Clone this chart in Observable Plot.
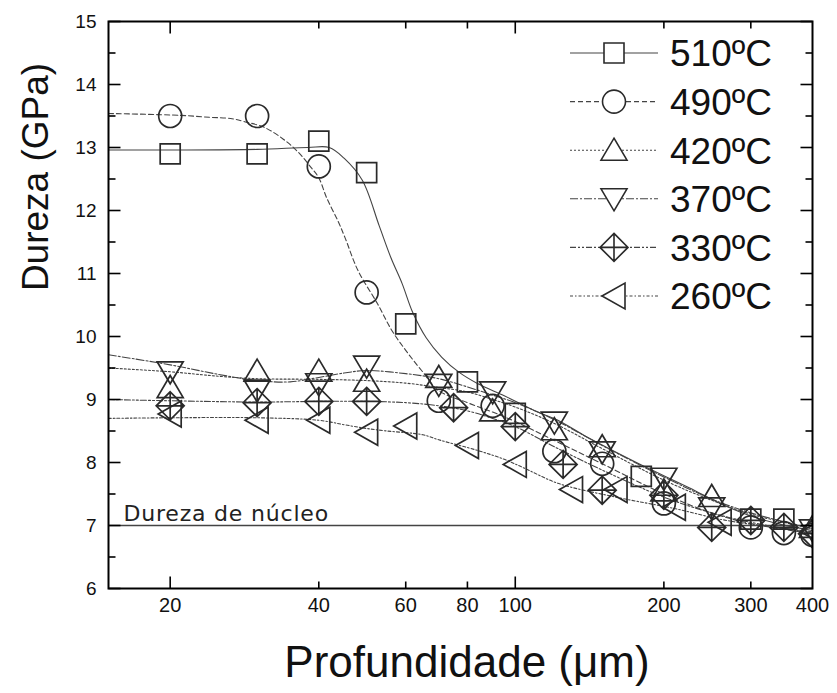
<!DOCTYPE html>
<html><head><meta charset="utf-8">
<script src="https://cdn.jsdelivr.net/npm/d3@7"></script>
<script src="https://cdn.jsdelivr.net/npm/@observablehq/plot@0.6"></script>
<style>body{margin:0;background:#fff} svg{display:block}</style>
</head><body><div id="chart"></div>
<script>
// ---------- data ----------
const seriesNames = ["510ºC", "490ºC", "420ºC", "370ºC", "330ºC", "260ºC"];

const depth510 = [20, 30, 40, 50, 60, 80, 100, 180, 300, 350];
const hard510  = [12.9, 12.9, 13.1, 12.6, 10.2, 9.28, 8.78, 7.78, 7.1, 7.1];
const depth490 = [20, 30, 40, 50, 70, 90, 120, 150, 200, 300, 350, 400];
const hard490  = [13.5, 13.5, 12.7, 10.7, 8.98, 8.9, 8.18, 7.98, 7.35, 6.97, 6.88, 6.85];
const depth420 = [20, 30, 40, 50, 70, 90, 120, 150, 200, 250, 400];
const hard420  = [9.19, 9.45, 9.45, 9.29, 9.35, 8.82, 8.52, 8.25, 7.55, 7.46, 6.97];
const depth370 = [20, 30, 40, 50, 70, 90, 120, 150, 200, 250, 400];
const hard370  = [9.44, 9.15, 9.25, 9.53, 9.24, 9.12, 8.64, 8.17, 7.75, 7.28, 6.93];
const depth330 = [20, 30, 40, 50, 75, 100, 125, 150, 200, 250, 300, 350, 400];
const hard330  = [8.9, 8.95, 8.97, 8.97, 8.87, 8.57, 7.97, 7.56, 7.48, 6.97, 7.08, 6.97, 6.87];
const depth260 = [20, 30, 40, 50, 60, 80, 100, 130, 160, 210, 260, 400];
const hard260  = [8.77, 8.67, 8.67, 8.48, 8.58, 8.27, 7.97, 7.57, 7.57, 7.29, 7.05, 6.9];

// fitted curves
const fitX510 = [15, 20, 30, 38, 42, 45, 49, 53, 56, 59, 62, 66, 71, 77, 84, 95, 111, 122, 140, 178, 225, 260, 300, 340, 400];
const fitY510 = [12.96, 12.96, 12.97, 13.0, 13.0, 12.83, 12.48, 11.76, 11.25, 10.84, 10.38, 9.98, 9.67, 9.43, 9.25, 9.06, 8.8, 8.67, 8.4, 7.98, 7.6, 7.35, 7.15, 7.03, 6.92];
const fitX490 = [15, 21, 24, 26.5, 28.3, 31, 33.8, 36.4, 38.6, 40, 41.5, 43.7, 45.2, 48, 52.6, 56.2, 60, 64.6, 70, 80, 90, 100, 120, 150, 200, 250, 300, 400];
const fitY490 = [13.54, 13.51, 13.48, 13.46, 13.41, 13.32, 13.14, 12.92, 12.68, 12.52, 12.2, 11.84, 11.57, 11.05, 10.52, 10.1, 9.78, 9.46, 9.14, 8.95, 8.8, 8.65, 8.35, 7.98, 7.5, 7.2, 7.03, 6.87];
const fitX420 = [15, 20, 25, 30, 40, 50, 60, 70, 80, 90, 100, 120, 150, 200, 250, 300, 400];
const fitY420 = [9.5, 9.44, 9.37, 9.33, 9.32, 9.3, 9.26, 9.19, 9.12, 9.0, 8.88, 8.62, 8.22, 7.72, 7.4, 7.18, 6.95];
const fitX370 = [15, 20, 25, 30, 35, 40, 45, 50, 60, 70, 80, 90, 100, 120, 150, 200, 250, 300, 400];
const fitY370 = [9.71, 9.55, 9.4, 9.3, 9.28, 9.35, 9.42, 9.46, 9.41, 9.33, 9.2, 9.07, 8.95, 8.68, 8.27, 7.77, 7.42, 7.2, 6.95];
const fitX330 = [15, 20, 30, 40, 50, 60, 70, 80, 90, 100, 120, 150, 200, 250, 300, 400];
const fitY330 = [9.0, 8.98, 8.96, 8.97, 8.97, 8.95, 8.9, 8.82, 8.7, 8.57, 8.25, 7.88, 7.45, 7.2, 7.05, 6.88];
const fitX260 = [15, 20, 30, 40, 45, 50, 55, 65, 70, 84, 95, 105, 122, 160, 210, 260, 300, 400];
const fitY260 = [8.7, 8.71, 8.71, 8.67, 8.6, 8.54, 8.5, 8.44, 8.36, 8.19, 8.05, 7.9, 7.67, 7.45, 7.27, 7.1, 7.02, 6.9];

const coreHardness = [7];
const coreLabel = "Dureza de núcleo";
const xTickValues = [20, 40, 60, 80, 100, 200, 300, 400];
const xMajorTicks = [20, 100];
const xMinorTicks = [40, 60, 80, 200, 300];
const yTickValues = [6, 7, 8, 9, 10, 11, 12, 13, 14, 15];
const yMinorTicks = [6.5, 7.5, 8.5, 9.5, 10.5, 11.5, 12.5, 13.5, 14.5];
const xLabel = "Profundidade (\u03bcm)";
const yLabel = "Dureza (GPa)";

// ---------- symbols ----------
const mk = fn => ({draw(c) { fn(c); }});
const symSquare = mk(c => { c.rect(-10, -10, 20, 20); });
const symCircle = mk(c => { c.moveTo(11.5, 0); c.arc(0, 0, 11.5, 0, 2 * Math.PI); });
const symUp = mk(c => { c.moveTo(0, -12); c.lineTo(13, 10); c.lineTo(-13, 10); c.closePath(); });
const symDown = mk(c => { c.moveTo(0, 12); c.lineTo(13, -10); c.lineTo(-13, -10); c.closePath(); });
const symDiamond = mk(c => { c.moveTo(0, -14); c.lineTo(14, 0); c.lineTo(0, 14); c.lineTo(-14, 0); c.closePath();
  c.moveTo(0, -14); c.lineTo(0, 14); c.moveTo(-14, 0); c.lineTo(14, 0); });
const symLeft = mk(c => { c.moveTo(-12, 0); c.lineTo(11, -13); c.lineTo(11, 13); c.closePath(); });
const tickSym = (dx, dy) => mk(c => { c.moveTo(0, 0); c.lineTo(dx, dy); });

const depths = [depth510, depth490, depth420, depth370, depth330, depth260];
const hards = [hard510, hard490, hard420, hard370, hard330, hard260];
const fitXs = [fitX510, fitX490, fitX420, fitX370, fitX330, fitX260];
const fitYs = [fitY510, fitY490, fitY420, fitY370, fitY330, fitY260];
const symbols = [symSquare, symCircle, symUp, symDown, symDiamond, symLeft];
const dashes = [null, "5,3", "2,2", "8,2,2,2", "6,2,2,2,2,2", "3,2,1.5,2"];

const lineMarks = [], dotMarks = [];
seriesNames.forEach((name, i) => {
  const pts = depths[i].map((d, j) => ({series: name, depth: d, hardness: hards[i][j]}));
  const fit = fitXs[i].map((d, j) => ({series: name, depth: d, hardness: fitYs[i][j]}));
  lineMarks.push(Plot.line(fit, {x: "depth", y: "hardness", curve: "catmull-rom", stroke: "#444",
    strokeWidth: 1.1, strokeDasharray: dashes[i], clip: "frame"}));
  dotMarks.push(Plot.dot(pts, {x: "depth", y: "hardness", symbol: symbols[i], r: 5, fill: "none",
    stroke: "#2a2a2a", strokeWidth: 1.7, clip: "frame"}));
});

const tickStyle = {stroke: "black", strokeWidth: 1.6, fill: "none", r: 5};
const chart = Plot.plot({
  width: 837, height: 693,
  marginLeft: 108, marginRight: 25, marginTop: 21, marginBottom: 105,
  style: {fontFamily: "'Liberation Sans', Arial, sans-serif", background: "white"},
  x: {type: "log", domain: [15, 400]},
  y: {domain: [6, 15]},
  marks: [
    Plot.ruleY(coreHardness, {stroke: "#444", strokeWidth: 1.3}),
    Plot.text(coreHardness, {y: d => d, frameAnchor: "left", dx: 15, dy: -5, lineAnchor: "bottom",
      textAnchor: "start", text: () => coreLabel, fontSize: 22, fontFamily: "'DejaVu Sans', Verdana, sans-serif",
      fill: "#222", style: "letter-spacing:0.8px"}),
    ...lineMarks,
    ...dotMarks,
    // inward ticks on all four sides
    Plot.dot(yTickValues, {y: d => d, frameAnchor: "left", symbol: tickSym(12, 0), ...tickStyle}),
    Plot.dot(yMinorTicks, {y: d => d, frameAnchor: "left", symbol: tickSym(7, 0), ...tickStyle}),
    Plot.dot(yTickValues, {y: d => d, frameAnchor: "right", symbol: tickSym(-12, 0), ...tickStyle}),
    Plot.dot(yMinorTicks, {y: d => d, frameAnchor: "right", symbol: tickSym(-7, 0), ...tickStyle}),
    Plot.dot(xMajorTicks, {x: d => d, frameAnchor: "bottom", symbol: tickSym(0, -12), ...tickStyle}),
    Plot.dot(xMinorTicks, {x: d => d, frameAnchor: "bottom", symbol: tickSym(0, -7), ...tickStyle}),
    Plot.dot(xMajorTicks, {x: d => d, frameAnchor: "top", symbol: tickSym(0, 12), ...tickStyle}),
    Plot.dot(xMinorTicks, {x: d => d, frameAnchor: "top", symbol: tickSym(0, 7), ...tickStyle}),
    Plot.axisY({ticks: yTickValues, tickSize: 0, tickPadding: 12, label: null, fontSize: 19, fill: "#111"}),
    Plot.axisX({ticks: xTickValues, tickFormat: d => String(d), tickSize: 0, tickPadding: 9, label: null,
      fontSize: 20, fontFamily: "'Liberation Sans Narrow', 'Arial Narrow', sans-serif", fill: "#111"}),
    Plot.frame({stroke: "black", strokeWidth: 2})
  ]
});
document.getElementById("chart").appendChild(chart);

// titles and legend
const svg = d3.select(chart);
svg.selectAll("text").filter(function() { return this.textContent === coreLabel; })
  .style("letter-spacing", "0.8px");
svg.append("text").attr("x", 467).attr("y", 677).attr("text-anchor", "middle")
  .style("font", "44px 'Liberation Sans', Arial, sans-serif").attr("fill", "#111").text(xLabel);
svg.append("text").attr("transform", "translate(48,177) rotate(-90)").attr("text-anchor", "middle")
  .style("font", "37px 'Liberation Sans', Arial, sans-serif").attr("fill", "#111").text(yLabel);

const lg = svg.append("g");
seriesNames.forEach((name, i) => {
  const y = 53 + i * 48.6;
  lg.append("line").attr("x1", 570).attr("x2", 658).attr("y1", y).attr("y2", y)
    .attr("stroke", "#444").attr("stroke-width", 1.1).attr("stroke-dasharray", dashes[i]);
  lg.append("path").attr("d", d3.symbol(symbols[i])()).attr("transform", `translate(614,${y})`)
    .attr("fill", "white").attr("stroke", "#2a2a2a").attr("stroke-width", 1.6);
  lg.append("text").attr("x", 670).attr("y", y).attr("dy", "0.36em").attr("text-anchor", "start")
    .style("font", "37px 'Liberation Sans', Arial, sans-serif").attr("fill", "#111").text(name);
});
</script></body></html>
